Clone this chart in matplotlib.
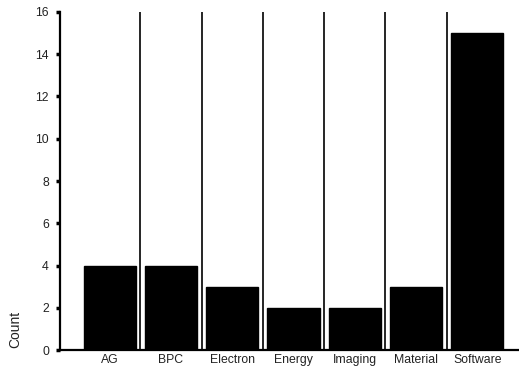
import matplotlib
matplotlib.use("Agg")
import matplotlib.pyplot as plt
import numpy as np

categories = ["AG", "BPC", "Electron", "Energy", "Imaging", "Material", "Software"]
counts = [4, 4, 3, 2, 2, 3, 15]
yticks = [0, 2, 4, 6, 8, 10, 12, 14, 16]

plt.rcParams["font.family"] = ["Liberation Sans", "DejaVu Sans"]

fig = plt.figure(figsize=(5.19, 3.70), dpi=100)
ax = fig.add_axes([0.1156, 0.054, 0.8844, 0.9136])

x = np.arange(len(categories))
ax.bar(x, counts, width=0.85, color="black", edgecolor="black")

# thin dividers between the groups
ax.vlines(x[:-1] + 0.5, 0, 16, color="black", lw=1.2)

ax.set_xlim(-0.81, 6.68)
ax.set_ylim(0, 16)
ax.set_xticks(x)
ax.set_xticklabels(categories, fontsize=8.8, color="#222222")
ax.set_yticks(yticks)
ax.set_yticklabels([str(v) for v in yticks], fontsize=8.8, color="#222222")
ax.tick_params(axis="x", length=0, pad=3)
ax.tick_params(axis="y", length=3, width=2.5, pad=5)

for side in ["top", "right"]:
    ax.spines[side].set_visible(False)
for side in ["left", "bottom"]:
    ax.spines[side].set_linewidth(1.6)

fig.text(0.03, 0.11, "Count", rotation=90, fontsize=10, ha="center", va="center",
         color="#222222")

fig.savefig("out.png", dpi=100)
